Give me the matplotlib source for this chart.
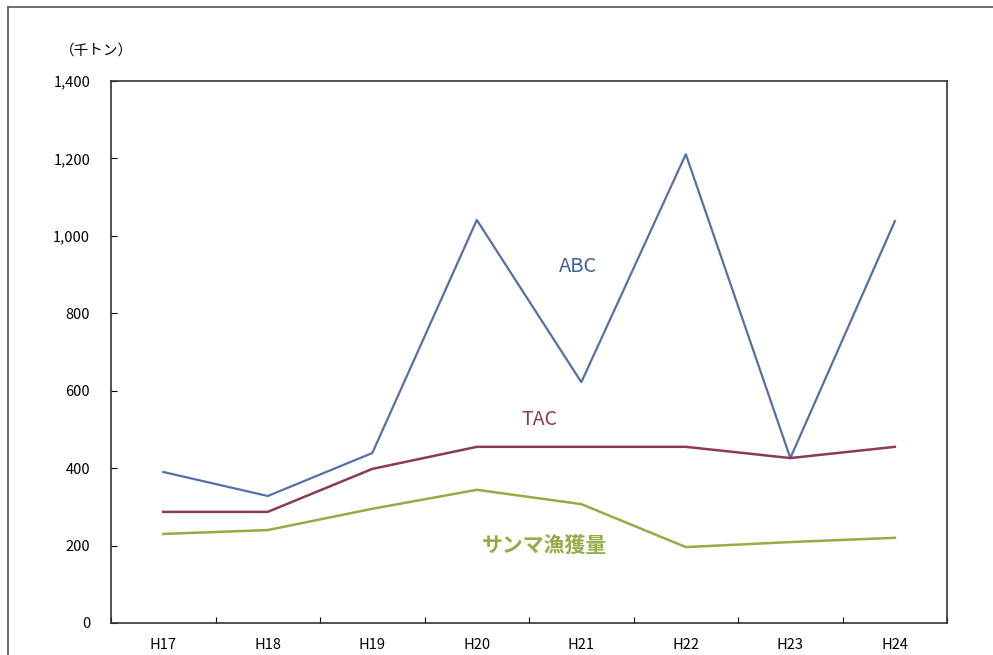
import numpy as np
import matplotlib.pyplot as plt
from matplotlib.lines import Line2D

plt.rcParams['font.family'] = ['Noto Sans CJK JP', 'DejaVu Sans']

years = ['H17', 'H18', 'H19', 'H20', 'H21', 'H22', 'H23', 'H24']
abc = [390, 328, 439, 1041, 622, 1211, 426, 1038]
tac = [287, 287, 398, 455, 455, 455, 426, 455]
catch = [230, 240, 295, 344, 307, 196, 209, 220]

fig = plt.figure(figsize=(9.93, 6.55), dpi=100)
ax = fig.add_axes([0.1118, 0.0489, 0.842, 0.8274])

x = np.arange(len(years))
ax.plot(x, abc, color='#5470a8', lw=1.6)
ax.plot(x, tac, color='#8c3a57', lw=1.8)
ax.plot(x, catch, color='#93ad45', lw=1.8)

ax.set_xlim(-0.5, len(years) - 0.5)
ax.set_ylim(0, 1400)
ax.set_yticks(np.arange(0, 1401, 200))
ax.set_yticklabels([f'{v:,}' for v in range(0, 1401, 200)], fontsize=10.5)
ax.tick_params(axis='y', direction='in', length=4, pad=15)

# category ticks at boundaries, labels in the middle
ax.set_xticks(np.arange(-0.5, len(years)), labels=[''] * (len(years) + 1))
ax.set_xticks(x, labels=years, minor=True)
ax.tick_params(axis='x', which='major', direction='in', length=4)
ax.tick_params(axis='x', which='minor', length=0, pad=11, labelsize=10.5)

for s in ax.spines.values():
    s.set_color('#333333')
    s.set_linewidth(1.2)

ax.text(3.97, 920, 'ABC', color='#3e5f9c', fontsize=14.5, ha='center', va='center')
ax.text(3.6, 525, 'TAC', color='#8c3a57', fontsize=14, ha='center', va='center')
ax.text(3.65, 200, 'サンマ漁獲量', color='#93ad45', fontsize=15,
        fontweight='bold', ha='center', va='center')

fig.text(0.097, 0.923, '（千トン）', fontsize=10.5, ha='center', va='center')

# outer frame
fig.add_artist(Line2D([0.008, 0.008], [0, 0.99], color='#555555', lw=1.2))
fig.add_artist(Line2D([0.008, 1.0], [0.99, 0.99], color='#555555', lw=1.2))

fig.savefig('out.png', dpi=100)
